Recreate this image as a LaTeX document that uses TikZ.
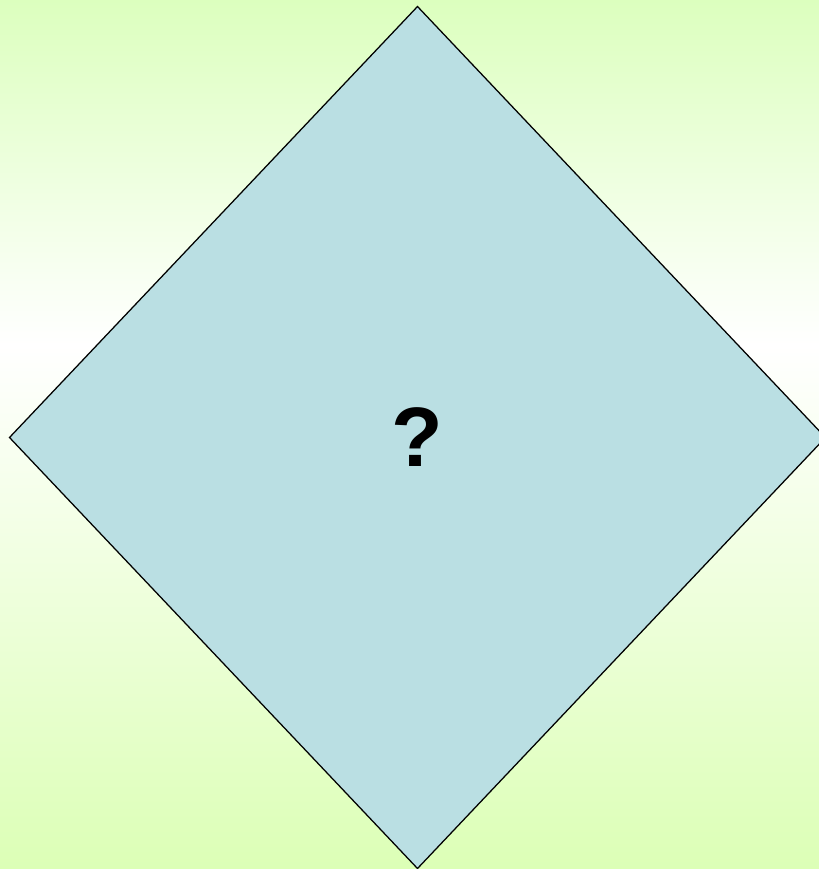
\documentclass[tikz,border=0pt]{standalone}
\usepackage{fontspec}
\setmainfont{Liberation Sans}
\usetikzlibrary{shapes.geometric}
\definecolor{bggreen}{RGB}{220, 255, 190}
\definecolor{bggreenlow}{RGB}{220, 255, 182}
\definecolor{decisionblue}{RGB}{186, 223, 227}

\tikzset{
  decision/.style={diamond, draw=black, line width=1.8pt, fill=decisionblue,
    inner sep=0pt, outer sep=0pt, aspect=1,
    minimum width=816*0.05cm, minimum height=862*0.05cm,
    font=\fontsize{120}{130}\selectfont\bfseries},
}

\begin{document}
\begin{tikzpicture}[x=0.05cm,y=-0.05cm]
\useasboundingbox (0,0) rectangle (819,869);
% background
\shade[top color=bggreen, bottom color=white] (0,0) rectangle (819,345);
\shade[top color=white, bottom color=bggreenlow] (0,345) rectangle (819,869);

\begin{scope}
\clip (0,0) rectangle (819,869);
\node[decision] (choice) at (417.5,437.5) {?};
\end{scope}
\end{tikzpicture}
\end{document}
